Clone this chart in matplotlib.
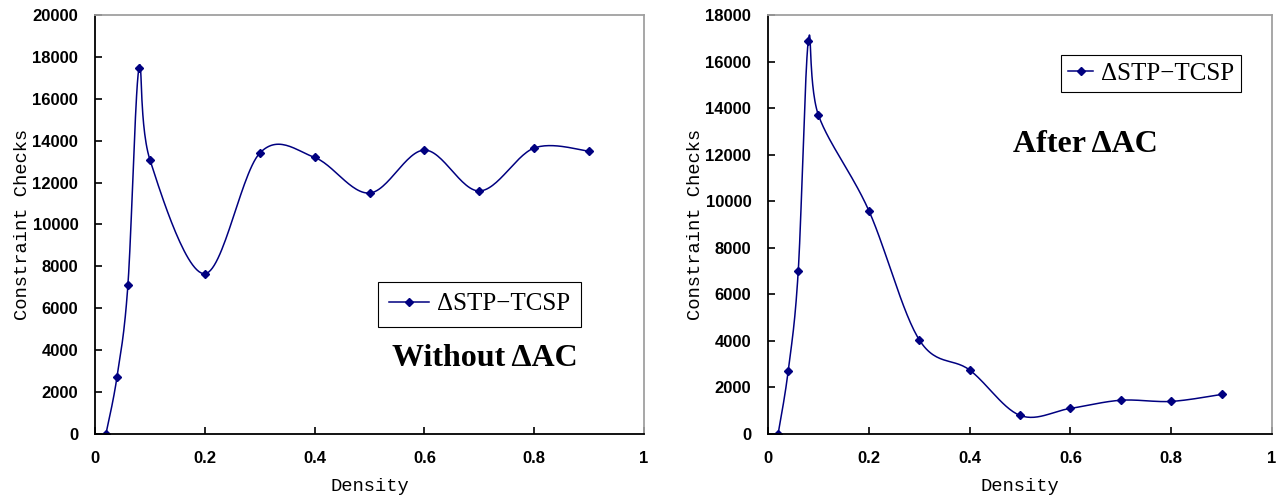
import numpy as np
import matplotlib
matplotlib.use("Agg")
import matplotlib.pyplot as plt

# data
density = [0.02, 0.04, 0.06, 0.08, 0.1, 0.2, 0.3, 0.4, 0.5, 0.6, 0.7, 0.8, 0.9]
checks_without = [0, 2700, 7100, 17450, 13100, 7650, 13400, 13200, 11500, 13550, 11600, 13650, 13500]
checks_after = [0, 2700, 7000, 16900, 13700, 9600, 4050, 2750, 800, 1100, 1450, 1400, 1700]
x_ticks = [0, 0.2, 0.4, 0.6, 0.8, 1]
x_labels = ["0", "0.2", "0.4", "0.6", "0.8", "1"]
series_name = "\u0394STP\u2212TCSP"

navy = "#000080"


def smooth(x, y, n=30):
    # excel-like smoothed line: bezier through points, control = P +- (P_next - P_prev)/6
    x = np.asarray(x, float)
    y = np.asarray(y, float)
    px = np.concatenate([[x[0]], x, [x[-1]]])
    py = np.concatenate([[y[0]], y, [y[-1]]])
    t = np.linspace(0, 1, n)[:, None]
    xs, ys = [], []
    for i in range(1, len(px) - 2):
        p0 = np.array([px[i], py[i]])
        p3 = np.array([px[i + 1], py[i + 1]])
        c1 = p0 + (np.array([px[i + 1], py[i + 1]]) - np.array([px[i - 1], py[i - 1]])) / 6
        c2 = p3 - (np.array([px[i + 2], py[i + 2]]) - np.array([px[i], py[i]])) / 6
        b = (1 - t) ** 3 * p0 + 3 * (1 - t) ** 2 * t * c1 + 3 * (1 - t) * t ** 2 * c2 + t ** 3 * p3
        xs.append(b[:, 0])
        ys.append(b[:, 1])
    return np.concatenate(xs), np.concatenate(ys)


def draw(ax, y, ymax, leg_loc, note, note_xy, hl, bp):
    sx, sy = smooth(density, y)
    ax.plot(sx, sy, color=navy, lw=1.1)
    ax.plot(density, y, ls="none", marker="D", ms=4.5, color=navy)
    ax.plot([], [], color=navy, lw=1.1, marker="D", ms=4, label=series_name)
    ax.set_xlim(0, 1)
    ax.set_ylim(0, ymax)
    ax.set_xticks(x_ticks)
    ax.set_xticklabels(x_labels)
    ax.set_yticks(np.arange(0, ymax + 1, 2000))
    ax.tick_params(direction="in", length=5, width=1.2, pad=12, labelsize=12)
    for lab in ax.get_xticklabels() + ax.get_yticklabels():
        lab.set_fontfamily("Liberation Sans")
        lab.set_fontweight("bold")
    for s in ["left", "bottom"]:
        ax.spines[s].set_color("black")
        ax.spines[s].set_linewidth(1.3)
    for s in ["top", "right"]:
        ax.spines[s].set_color("#a0a0a0")
        ax.spines[s].set_linewidth(1.3)
    ax.set_xlabel("Density", family="Liberation Mono", fontsize=13.5, labelpad=9)
    ax.set_ylabel("Constraint Checks", family="Liberation Mono", fontsize=13.5, labelpad=1)
    leg = ax.legend(loc="center", bbox_to_anchor=leg_loc, fancybox=False, edgecolor="black",
                    framealpha=1, prop={"family": "Liberation Serif", "size": 18},
                    handlelength=hl, handletextpad=0.3, borderpad=bp)
    leg.get_frame().set_linewidth(0.8)
    ax.text(note_xy[0], note_xy[1], note, transform=ax.transAxes, ha="center", va="center",
            family="Liberation Serif", fontweight="bold", fontsize=23)


fig = plt.figure(figsize=(12.83, 4.98), dpi=100)
ax1 = fig.add_axes([0.074, 0.1285, 0.428, 0.8415])
ax2 = fig.add_axes([0.5986, 0.1285, 0.3928, 0.8415])

draw(ax1, checks_without, 20000, (0.70, 0.31), "Without \u0394AC", (0.71, 0.18), 1.6, 0.45)
draw(ax2, checks_after, 18000, (0.76, 0.86), "After \u0394AC", (0.63, 0.69), 1.0, 0.28)

plt.savefig("out.png", dpi=100)
